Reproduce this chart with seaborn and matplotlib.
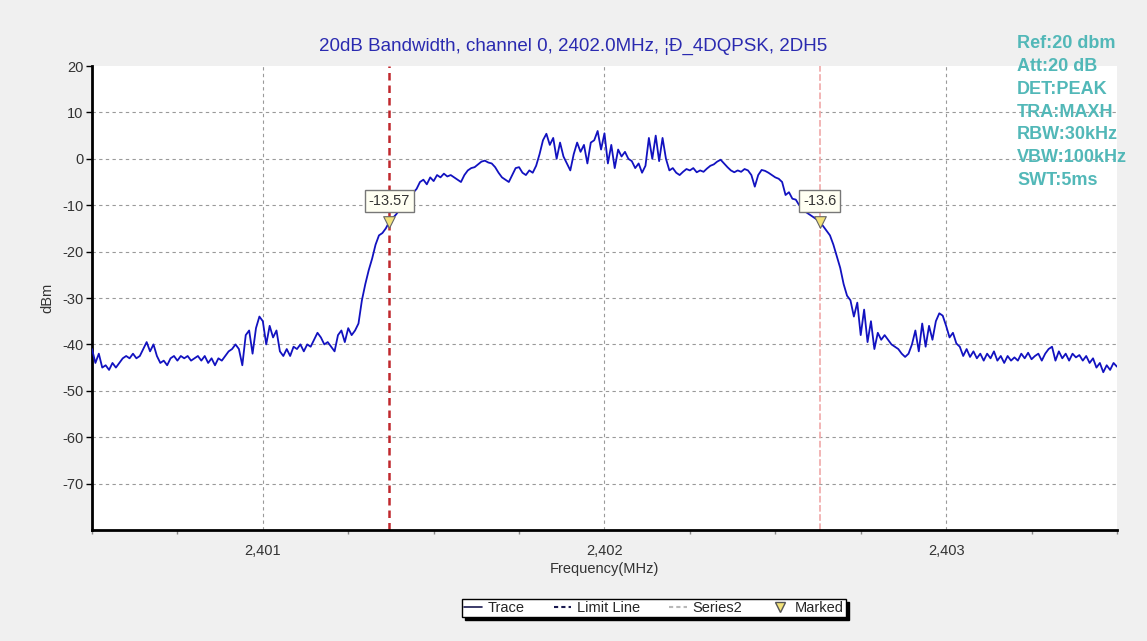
import numpy as np
import pandas as pd
import matplotlib
matplotlib.use("Agg")
import matplotlib.pyplot as plt
import seaborn as sns
from matplotlib.lines import Line2D
from matplotlib.ticker import FuncFormatter, MultipleLocator

# ---------------- data ----------------
freq_start = 2400.5   # MHz
freq_step = 0.01      # MHz

levels = [
    -41, -44, -42, -45, -44.5, -45.5, -44, -45, -44, -43,
    -42.5, -43, -42, -43, -42.5, -41, -39.5, -41.5, -40, -42.5,
    -44, -43.5, -44.5, -43, -42.5, -43.5, -42.5, -43, -42.5, -43.5,
    -43, -42.5, -43.5, -42.5, -44, -43, -44.5, -43, -43.5, -42.5,
    -41.5, -41, -40, -41, -44.5, -38, -37, -42, -36.5, -34,
    -35, -40, -36, -38.5, -37, -41.5, -42.5, -41, -42.5, -40.5,
    -41, -40, -41.5, -40, -40.5, -39, -37.5, -38.5, -40, -39.5,
    -40.5, -41.5, -38, -37, -39.5, -36.5, -38, -37, -35.5, -30.5,
    -27, -24, -21.5, -18.5, -16.5, -16, -15, -13.6, -12.8, -12,
    -11, -10, -9, -8, -7.3, -6.5, -5, -4.5, -5.5, -4,
    -4.8, -3.5, -4, -3.2, -3.8, -3.5, -4, -4.5, -5, -3.5,
    -2.5, -2, -1.8, -1.2, -0.6, -0.4, -0.8, -1, -1.8, -3,
    -4, -4.5, -5, -3.5, -2, -1.8, -3, -3.5, -2.5, -3,
    -1.5, 1, 4, 5.4, 3, 4.5, 0, 3.5, 0.5, -1,
    -2.5, 1, 3.5, 1.5, 3, -1, 3.5, 4, 6, 2,
    5.5, -1, 3, -2, 2, 0.5, 1.5, 0, -0.5, -2,
    -1, -3, -1.5, 4.5, 0, 5, -0.5, 4.5, 0, -2.5,
    -2, -3, -3.5, -2.8, -2.2, -2.5, -2, -2.9, -2.5, -2.8,
    -2.1, -1.5, -1.2, -0.6, -0.2, -1, -1.8, -2.5, -2.9, -2.5,
    -2.8, -2.2, -2.5, -3.5, -6, -3.5, -2.4, -2.6, -3, -3.5,
    -4, -4.3, -5, -7.8, -7.2, -8.6, -8.8, -10, -10.5, -11.5,
    -12, -12.5, -13, -13.6, -14.5, -15.5, -16.5, -18.5, -21, -23.5,
    -27, -29.5, -30.5, -34, -31, -38, -32.5, -39.5, -35, -41,
    -37.5, -39, -38, -39, -40, -40.5, -41, -42, -42.7, -42,
    -40, -37, -41.5, -35.5, -40.5, -36, -39, -35, -33.3, -33.8,
    -36, -38.5, -37.5, -39.8, -40.5, -42.5, -41, -42.7, -41.5, -43,
    -42, -43.5, -42, -43, -41.5, -43.5, -42.5, -44, -42.5, -43.5,
    -42.8, -43.5, -42, -43, -41.8, -43.2, -42.5, -42, -43.5, -42,
    -41, -40.5, -43.5, -41.5, -43, -42, -43.5, -42, -42.8, -42.3,
    -43.5, -42.5, -44, -43, -45, -44, -46, -44.5, -45.5, -44,
    -44.8,
]
freqs = np.round(freq_start + freq_step * np.arange(len(levels)), 4)

limit_freqs = [2401.37, 2402.63]
marker_levels = [-13.57, -13.6]
marker_labels = ["-13.57", "-13.6"]

y_ticks = [-70, -60, -50, -40, -30, -20, -10, 0, 10, 20]
x_ticks = [2401, 2402, 2403]

title_text = "20dB Bandwidth, channel 0, 2402.0MHz, \u00a6\u00d0_4DQPSK, 2DH5"
info_lines = ["Ref:20 dbm", "Att:20 dB", "DET:PEAK", "TRA:MAXH",
              "RBW:30kHz", "VBW:100kHz", "SWT:5ms"]
legend_labels = ["Trace", "Limit Line", "Series2", "Marked"]

# ---------------- style ----------------
sns.set_style("white")
plt.rcParams["font.family"] = ["Liberation Sans", "DejaVu Sans"]
plt.rcParams["axes.unicode_minus"] = False

df = pd.DataFrame({"freq": freqs, "level": levels})

fig = plt.figure(figsize=(11.47, 6.41), dpi=100, facecolor="#f0f0f0")
ax = fig.add_axes([0.0802, 0.1732, 0.8936, 0.7238])
ax.set_facecolor("white")

trace_color = "#1212c0"
sns.lineplot(data=df, x="freq", y="level", ax=ax, color=trace_color,
             linewidth=1.3, estimator=None, sort=False, legend=False, zorder=3)

ax.axvline(limit_freqs[0], color="#c0282d", lw=1.8, ls=(0, (3, 2)), zorder=2)
ax.axvline(limit_freqs[1], color="#f0a8a8", lw=1.2, ls=(0, (4, 1.5)), zorder=2)

mk = pd.DataFrame({"f": limit_freqs, "v": marker_levels})
sns.scatterplot(data=mk, x="f", y="v", ax=ax, marker="v", s=70,
                color="#f2e27a", edgecolor="#666666", linewidth=0.8,
                zorder=5, legend=False)
for f, v, lbl in zip(limit_freqs, marker_levels, marker_labels):
    ax.annotate(lbl, (f, v), xytext=(0, 15), textcoords="offset points",
                ha="center", va="center", fontsize=10.5, color="#333333",
                bbox=dict(boxstyle="square,pad=0.25", fc="#fffff2",
                          ec="#777777", lw=1.0), zorder=6)

ax.set_xlim(2400.5, 2403.5)
ax.set_ylim(-80, 20)
ax.set_yticks(y_ticks)
ax.set_xticks(x_ticks)
ax.xaxis.set_minor_locator(MultipleLocator(0.25))
ax.xaxis.set_major_formatter(FuncFormatter(lambda x, p: f"{x:,.0f}"))
ax.grid(True, which="major", color="#9a9a9a", ls=(0, (3, 3)), lw=0.8)
ax.get_ygridlines()[-1].set_visible(False)

for s in ["top", "right"]:
    ax.spines[s].set_visible(False)
for s in ["left", "bottom"]:
    ax.spines[s].set_color("black")
    ax.spines[s].set_linewidth(2)

ax.tick_params(axis="y", direction="out", length=4, width=1, color="black",
               labelsize=10.5, labelcolor="#333333", pad=2, left=True)
ax.tick_params(axis="x", which="major", direction="out", length=0,
               labelsize=10.5, labelcolor="#333333", pad=10, bottom=True)
ax.tick_params(axis="x", which="minor", direction="out", length=3, width=1,
               color="#888888", bottom=True)

ax.set_xlabel("Frequency(MHz)", fontsize=10.5, color="#333333", labelpad=3)
ax.set_ylabel("dBm", fontsize=10.5, color="#333333", labelpad=6)

fig.text(0.5, 1 - 46 / 641, title_text, ha="center", va="center",
         fontsize=13.5, color="#2a2ab0")

fig.text(1017 / 1147, 1 - 35 / 641, "\n".join(info_lines), ha="left", va="top",
         fontsize=13, fontweight="bold", color="#52b8b8", linespacing=1.45)

handles = [
    Line2D([], [], color="#1a1a50", lw=1.2),
    Line2D([], [], color="#1a1a50", lw=1.5, ls=(0, (2, 1.5))),
    Line2D([], [], color="#b8b8b8", lw=1.5, ls=(0, (2, 1.5))),
    Line2D([], [], color="#f2e27a", marker="v", markeredgecolor="#555555",
           markersize=7, lw=0),
]
leg = fig.legend(handles, legend_labels, loc="center",
                 bbox_to_anchor=(654 / 1147, 1 - 608 / 641), ncol=4,
                 frameon=True, fancybox=False, framealpha=1,
                 shadow={"color": "black", "alpha": 1.0},
                 edgecolor="black", fontsize=10.5, handlelength=1.2,
                 columnspacing=2.0, borderpad=0.15, handletextpad=0.4)
leg.get_frame().set_linewidth(1.0)

fig.savefig("out.png", dpi=100, facecolor=fig.get_facecolor())
